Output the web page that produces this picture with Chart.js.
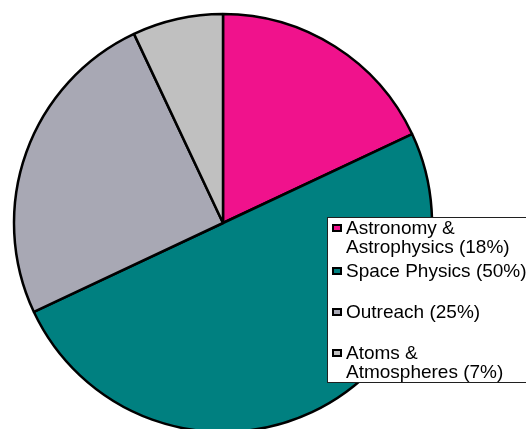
<!DOCTYPE html>
<html>
<head>
<meta charset="utf-8">
<title>Budget share by area</title>
<script src="https://cdn.jsdelivr.net/npm/chart.js@4/dist/chart.umd.min.js"></script>
<style>
  html, body { margin: 0; padding: 0; background: #ffffff; overflow: hidden; }
  canvas { display: block; }
</style>
</head>
<body>
<canvas id="pie" width="526" height="429"></canvas>
<script>
// share per research area, in percent (clockwise from 12 o'clock)
const NAMES = [
  ['Astronomy &', 'Astrophysics'],
  ['Space Physics'],
  ['Outreach'],
  ['Atoms &', 'Atmospheres']
];
const SHARES = [18, 50, 25, 7];
const COLORS = ['#f0128c', '#008080', '#a8a8b4', '#c0c0c0'];

// legend text: last line of each name gets the share appended
const LEGEND_LINES = NAMES.map((lines, i) => {
  const out = lines.slice();
  out[out.length - 1] = out[out.length - 1] + ' (' + SHARES[i] + '%)';
  return out;
});

// boxed legend laid over the lower right of the pie
const boxLegend = {
  id: 'boxLegend',
  afterDraw(chart) {
    const ctx = chart.ctx;
    const box = { x: 327.5, y: 217.5, w: 210, h: 165 };
    const rowY = [228, 271, 312, 353];   // centre of first line per item
    const lineH = 18.5;
    ctx.save();
    ctx.fillStyle = '#ffffff';
    ctx.fillRect(box.x, box.y, box.w, box.h);
    ctx.strokeStyle = '#202020';
    ctx.lineWidth = 1;
    ctx.strokeRect(box.x, box.y, box.w, box.h);

    ctx.font = '19px "Liberation Sans", Arial, sans-serif';
    ctx.textBaseline = 'middle';
    ctx.textAlign = 'left';
    LEGEND_LINES.forEach((lines, i) => {
      const y0 = rowY[i];
      // marker
      ctx.fillStyle = '#000000';
      ctx.fillRect(332, y0 - 4, 10, 8);
      ctx.fillStyle = COLORS[i];
      ctx.fillRect(334, y0 - 2, 6, 4);
      // label
      ctx.fillStyle = '#000000';
      lines.forEach((t, k) => ctx.fillText(t, 346, y0 + 1 + k * lineH));
    });
    ctx.restore();
  }
};

new Chart(document.getElementById('pie'), {
  type: 'pie',
  data: {
    labels: NAMES.map(l => l.join(' ')),
    datasets: [{
      data: SHARES,
      backgroundColor: COLORS,
      borderColor: '#000000',
      borderWidth: 2.5,
      radius: 209
    }]
  },
  options: {
    responsive: false,
    animation: false,
    layout: { padding: { left: 14, right: 94, top: 17, bottom: 0 } },
    plugins: {
      legend: { display: false },
      tooltip: { enabled: false }
    }
  },
  plugins: [boxLegend]
});
</script>
</body>
</html>
